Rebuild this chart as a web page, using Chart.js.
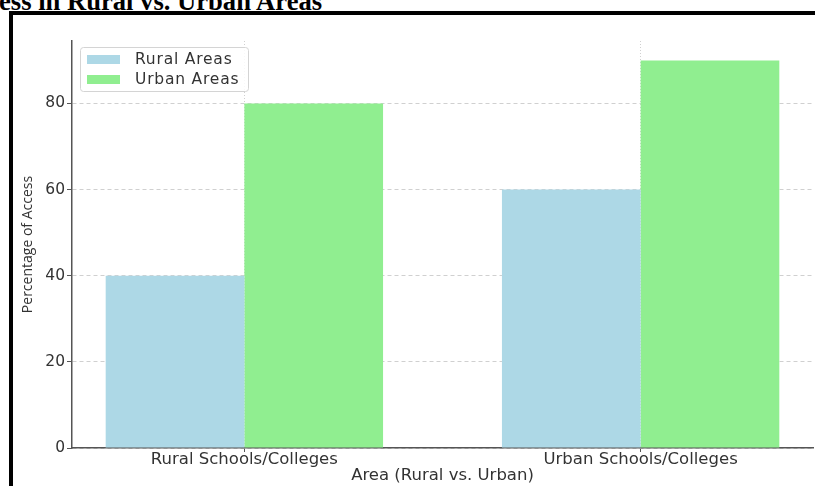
<!DOCTYPE html>
<html lang="en">
<head>
    <meta charset="UTF-8">
    <title>Access in Rural vs. Urban Areas</title>
    <script src="https://cdn.jsdelivr.net/npm/chart.js"></script>
    <style>
        html, body {
            margin: 0;
            padding: 0;
            width: 815px;
            height: 486px;
            overflow: hidden;
            background: #fff;
        }
        #title {
            position: absolute;
            left: -1px;
            top: -12px;
            font-family: 'Liberation Serif', 'Times New Roman', serif;
            font-weight: bold;
            font-size: 26.6px;
            line-height: 26px;
            color: #000;
            white-space: nowrap;
        }
        #frame {
            position: absolute;
            left: 9px;
            top: 11px;
            width: 900px;
            height: 600px;
            border: 4px solid #000;
        }
        #chart {
            position: absolute;
            left: 0;
            top: 0;
        }
    </style>
</head>
<body>
    <div id="title">ess in Rural vs. Urban Areas</div>
    <div id="frame"></div>
    <canvas id="chart" width="815" height="486"></canvas>

    <script>
        // data
        const categories = ['Rural Schools/Colleges', 'Urban Schools/Colleges'];
        const ruralAreas = [40, 60];
        const urbanAreas = [80, 90];
        const yTicks = [0, 20, 40, 60, 80];
        const seriesNames = ['Rural Areas', 'Urban Areas'];

        const colors = ['#add8e6', '#90ee90'];

        // a matplotlib-like legend with a rounded frame, top left in the plot
        const boxLegend = {
            id: 'boxLegend',
            afterDraw(chart) {
                const ctx = chart.ctx;
                const area = chart.chartArea;
                const x = area.left + 8, y = area.top + 6;
                const w = 168, h = 44;
                ctx.save();
                ctx.fillStyle = 'rgba(255,255,255,0.85)';
                ctx.strokeStyle = '#d4d4d4';
                ctx.lineWidth = 1;
                ctx.beginPath();
                ctx.roundRect(x + 0.5, y + 0.5, w, h, 3);
                ctx.fill();
                ctx.stroke();
                ctx.font = '15.5px "DejaVu Sans"';
                ctx.letterSpacing = '0.8px';
                ctx.textBaseline = 'middle';
                chart.data.datasets.forEach((ds, i) => {
                    const cy = y + 12 + i * 20;
                    ctx.fillStyle = ds.backgroundColor;
                    ctx.fillRect(x + 7, cy - 4, 33, 9);
                    ctx.fillStyle = '#333';
                    ctx.fillText(ds.label, x + 55, cy + 1);
                });
                ctx.restore();
            }
        };

        const ctx = document.getElementById('chart').getContext('2d');
        new Chart(ctx, {
            type: 'bar',
            data: {
                datasets: [
                    {
                        label: seriesNames[0],
                        data: ruralAreas.map((v, i) => ({ x: i, y: v })),
                        backgroundColor: colors[0]
                    },
                    {
                        label: seriesNames[1],
                        data: urbanAreas.map((v, i) => ({ x: i, y: v })),
                        backgroundColor: colors[1]
                    }
                ]
            },
            options: {
                responsive: false,
                animation: false,
                maintainAspectRatio: false,
                devicePixelRatio: 1,
                layout: { padding: { left: 0, top: 41, right: 2, bottom: 0 } },
                datasets: {
                    bar: { categoryPercentage: 0.7, barPercentage: 1.0 }
                },
                plugins: {
                    legend: { display: false },
                    tooltip: { enabled: false }
                },
                scales: {
                    x: {
                        type: 'linear',
                        offset: false,
                        min: -0.435,
                        max: 1.435,
                        afterBuildTicks: (scale) => {
                            scale.ticks = categories.map((_, i) => ({ value: i }));
                        },
                        afterFit: (scale) => { scale.height = 38; },
                        ticks: {
                            callback: (v) => categories[v],
                            color: '#333',
                            padding: -2,
                            maxRotation: 0,
                            autoSkip: false,
                            font: { family: 'DejaVu Sans', size: 16.5 }
                        },
                        grid: {
                            offset: false,
                            color: '#d0d0d0',
                            tickColor: '#555',
                            tickLength: 4,
                            lineWidth: 1
                        },
                        border: { color: '#555', width: 1.5, dash: [1, 2] },
                        title: {
                            display: true,
                            text: 'Area (Rural vs. Urban)',
                            color: '#333',
                            font: { family: 'DejaVu Sans', size: 16.5 },
                            padding: { top: 0, bottom: 0 }
                        }
                    },
                    y: {
                        min: 0,
                        max: 94.5,
                        afterBuildTicks: (scale) => {
                            scale.ticks = yTicks.map(v => ({ value: v }));
                        },
                        afterFit: (scale) => { scale.width = 72; },
                        ticks: {
                            color: '#333',
                            padding: 2,
                            font: { family: 'DejaVu Sans', size: 15.5 }
                        },
                        grid: {
                            color: '#d0d0d0',
                            tickColor: '#555',
                            tickLength: 5,
                            lineWidth: 1
                        },
                        border: { color: '#555', width: 1.5, dash: [4, 3] },
                        title: {
                            display: true,
                            text: 'Percentage of Access',
                            color: '#333',
                            font: { family: 'Open Sans', size: 14 },
                            padding: { top: 20, bottom: 0 }
                        }
                    }
                }
            },
            plugins: [boxLegend]
        });
    </script>
</body>
</html>
